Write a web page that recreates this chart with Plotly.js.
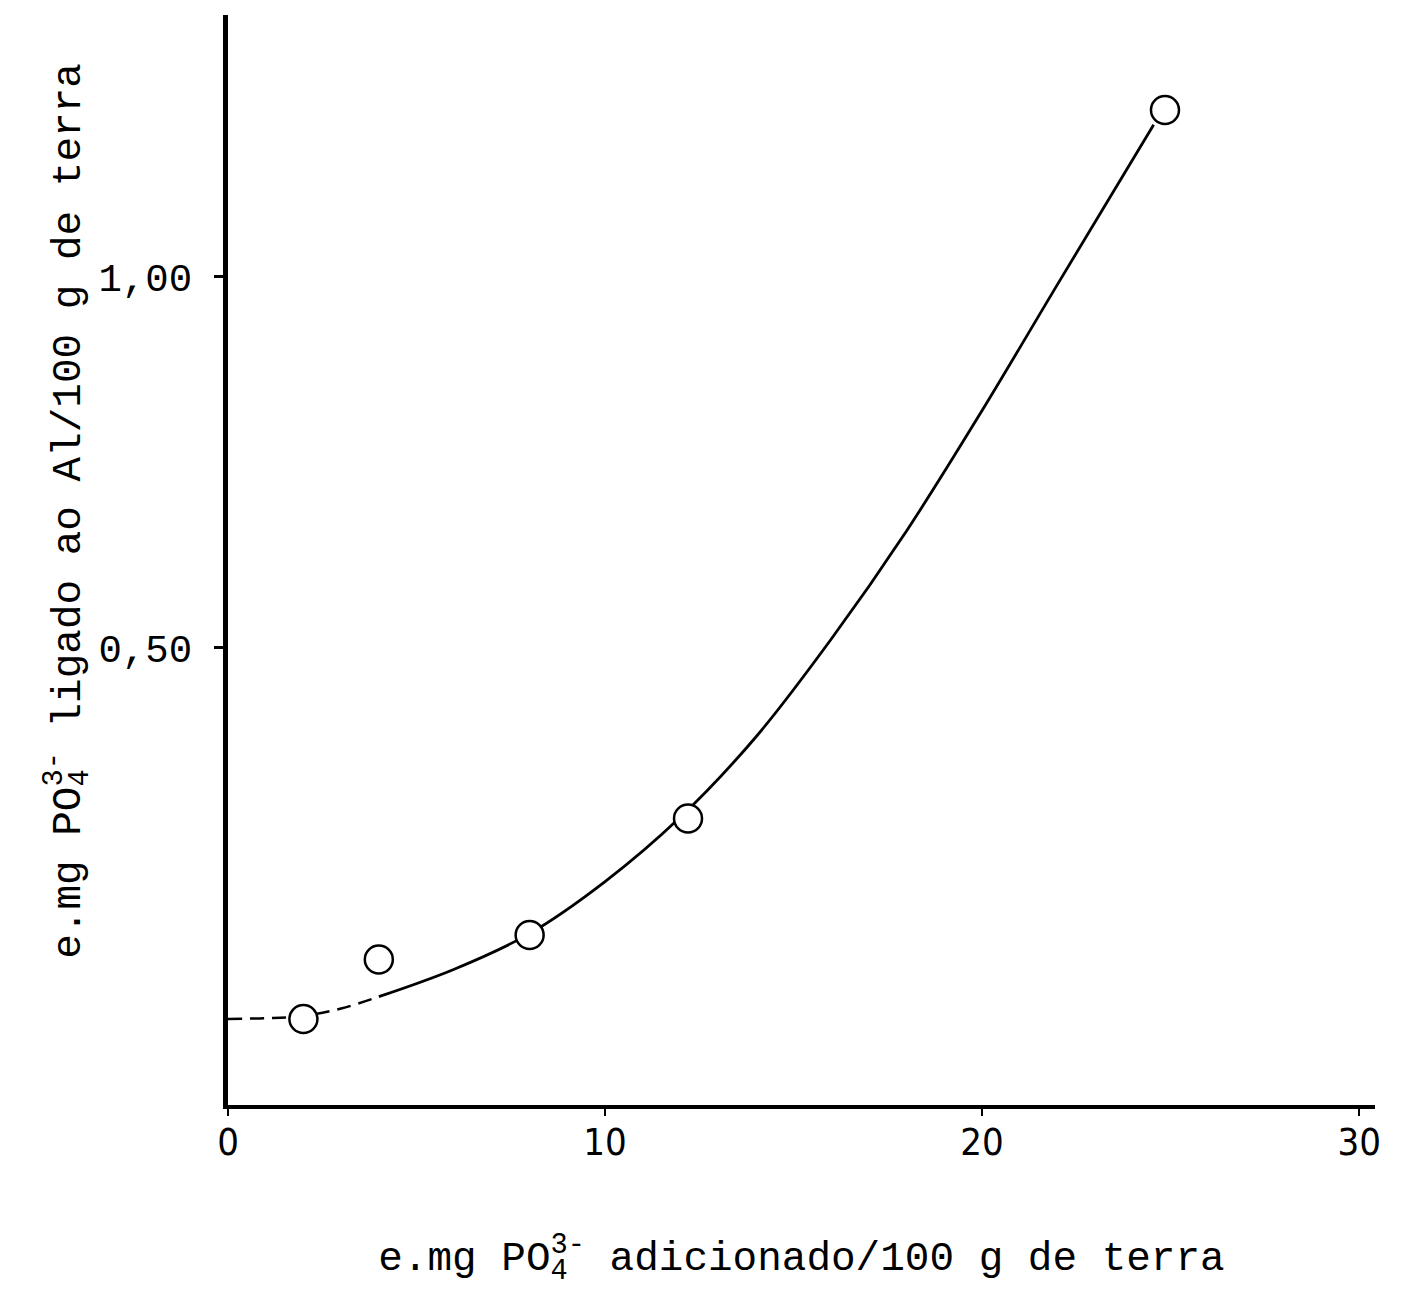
<!DOCTYPE html>
<html>
<head>
<meta charset="utf-8">
<script src="https://cdn.plot.ly/plotly-3.0.1.min.js"></script>
<style>
html, body { margin: 0; padding: 0; background: #ffffff; }
#chart { width: 1401px; height: 1294px; }
</style>
</head>
<body>
<div id="chart"></div>
<script>
// Observed data points (e.mg PO4 added vs. bound to Al)
const pointsX = [2, 4, 8, 12.2, 24.85];
const pointsY = [0.0, 0.08, 0.113, 0.27, 1.225];

// Hand-drawn fitted curve
const curveDashX = [0, 1, 2, 3, 4];
const curveDashY = [0.0, 0.001, 0.004, 0.014, 0.03];
const curveX = [4, 6, 8, 10, 12, 14, 16, 18, 20, 22, 24.55];
const curveY = [0.03, 0.067, 0.115, 0.185, 0.272, 0.38, 0.512, 0.658, 0.82, 0.99, 1.205];

// Axis ticks
const xTickVals = [0, 10, 20, 30];
const xTickText = ['0', '10', '20', '30'];
const yTickVals = [0.5, 1.0];
const yTickText = ['0,50', '1,00'];

const stack4 = '<sub><span style="letter-spacing:-0.6em">4</span></sub><sup>3-</sup>';
const xTitle = 'e.mg PO' + stack4 + ' adicionado/100 g de terra';
const yTitle = 'e.mg PO' + stack4 + ' ligado ao Al/100 g de terra';

const mono = '"Liberation Mono", "DejaVu Sans Mono", monospace';
const narrow = '"Liberation Sans Narrow", "DejaVu Sans Condensed", "Roboto Condensed", "Liberation Sans", sans-serif';

const traces = [
  {
    x: curveDashX, y: curveDashY, type: 'scatter', mode: 'lines',
    line: { color: '#000', width: 2.5, shape: 'spline', dash: '14px,8px' },
    hoverinfo: 'skip', showlegend: false
  },
  {
    x: curveX, y: curveY, type: 'scatter', mode: 'lines',
    line: { color: '#000', width: 2.8, shape: 'spline', smoothing: 1 },
    hoverinfo: 'skip', showlegend: false
  },
  {
    x: pointsX, y: pointsY, type: 'scatter', mode: 'markers',
    marker: { symbol: 'circle', size: 28, color: '#ffffff', line: { color: '#000', width: 2.5 } },
    showlegend: false
  }
];

const layout = {
  width: 1401, height: 1294,
  margin: { l: 228, r: 26, t: 15, b: 189 },
  paper_bgcolor: '#ffffff', plot_bgcolor: '#ffffff',
  showlegend: false,
  xaxis: {
    range: [0, 30.42], showgrid: false, zeroline: false,
    showline: true, linecolor: '#000', linewidth: 4,
    ticks: 'outside', ticklen: 7, tickwidth: 2, tickcolor: '#000',
    tickvals: xTickVals, ticktext: xTickText,
    tickfont: { family: narrow, size: 38, color: '#000' },
    ticklabelstandoff: -7,
    automargin: false,
    title: { text: xTitle, font: { family: mono, size: 41, color: '#000' }, standoff: 80 }
  },
  yaxis: {
    range: [-0.116, 1.353], showgrid: false, zeroline: false,
    showline: true, linecolor: '#000', linewidth: 5,
    ticks: 'outside', ticklen: 9, tickwidth: 3, tickcolor: '#000',
    tickvals: yTickVals, ticktext: yTickText,
    tickfont: { family: mono, size: 39, color: '#000' },
    ticklabelstandoff: 14,
    automargin: false,
    title: { text: yTitle, font: { family: mono, size: 41, color: '#000' }, standoff: 7 }
  }
};

Plotly.newPlot('chart', traces, layout, { staticPlot: true, displayModeBar: false }).then(function (gd) {
  // the reference's y title sits a little above the middle of the axis
  const g = gd.querySelector('.g-ytitle');
  if (g) g.setAttribute('transform', 'translate(0,-49)');
});
</script>
</body>
</html>
